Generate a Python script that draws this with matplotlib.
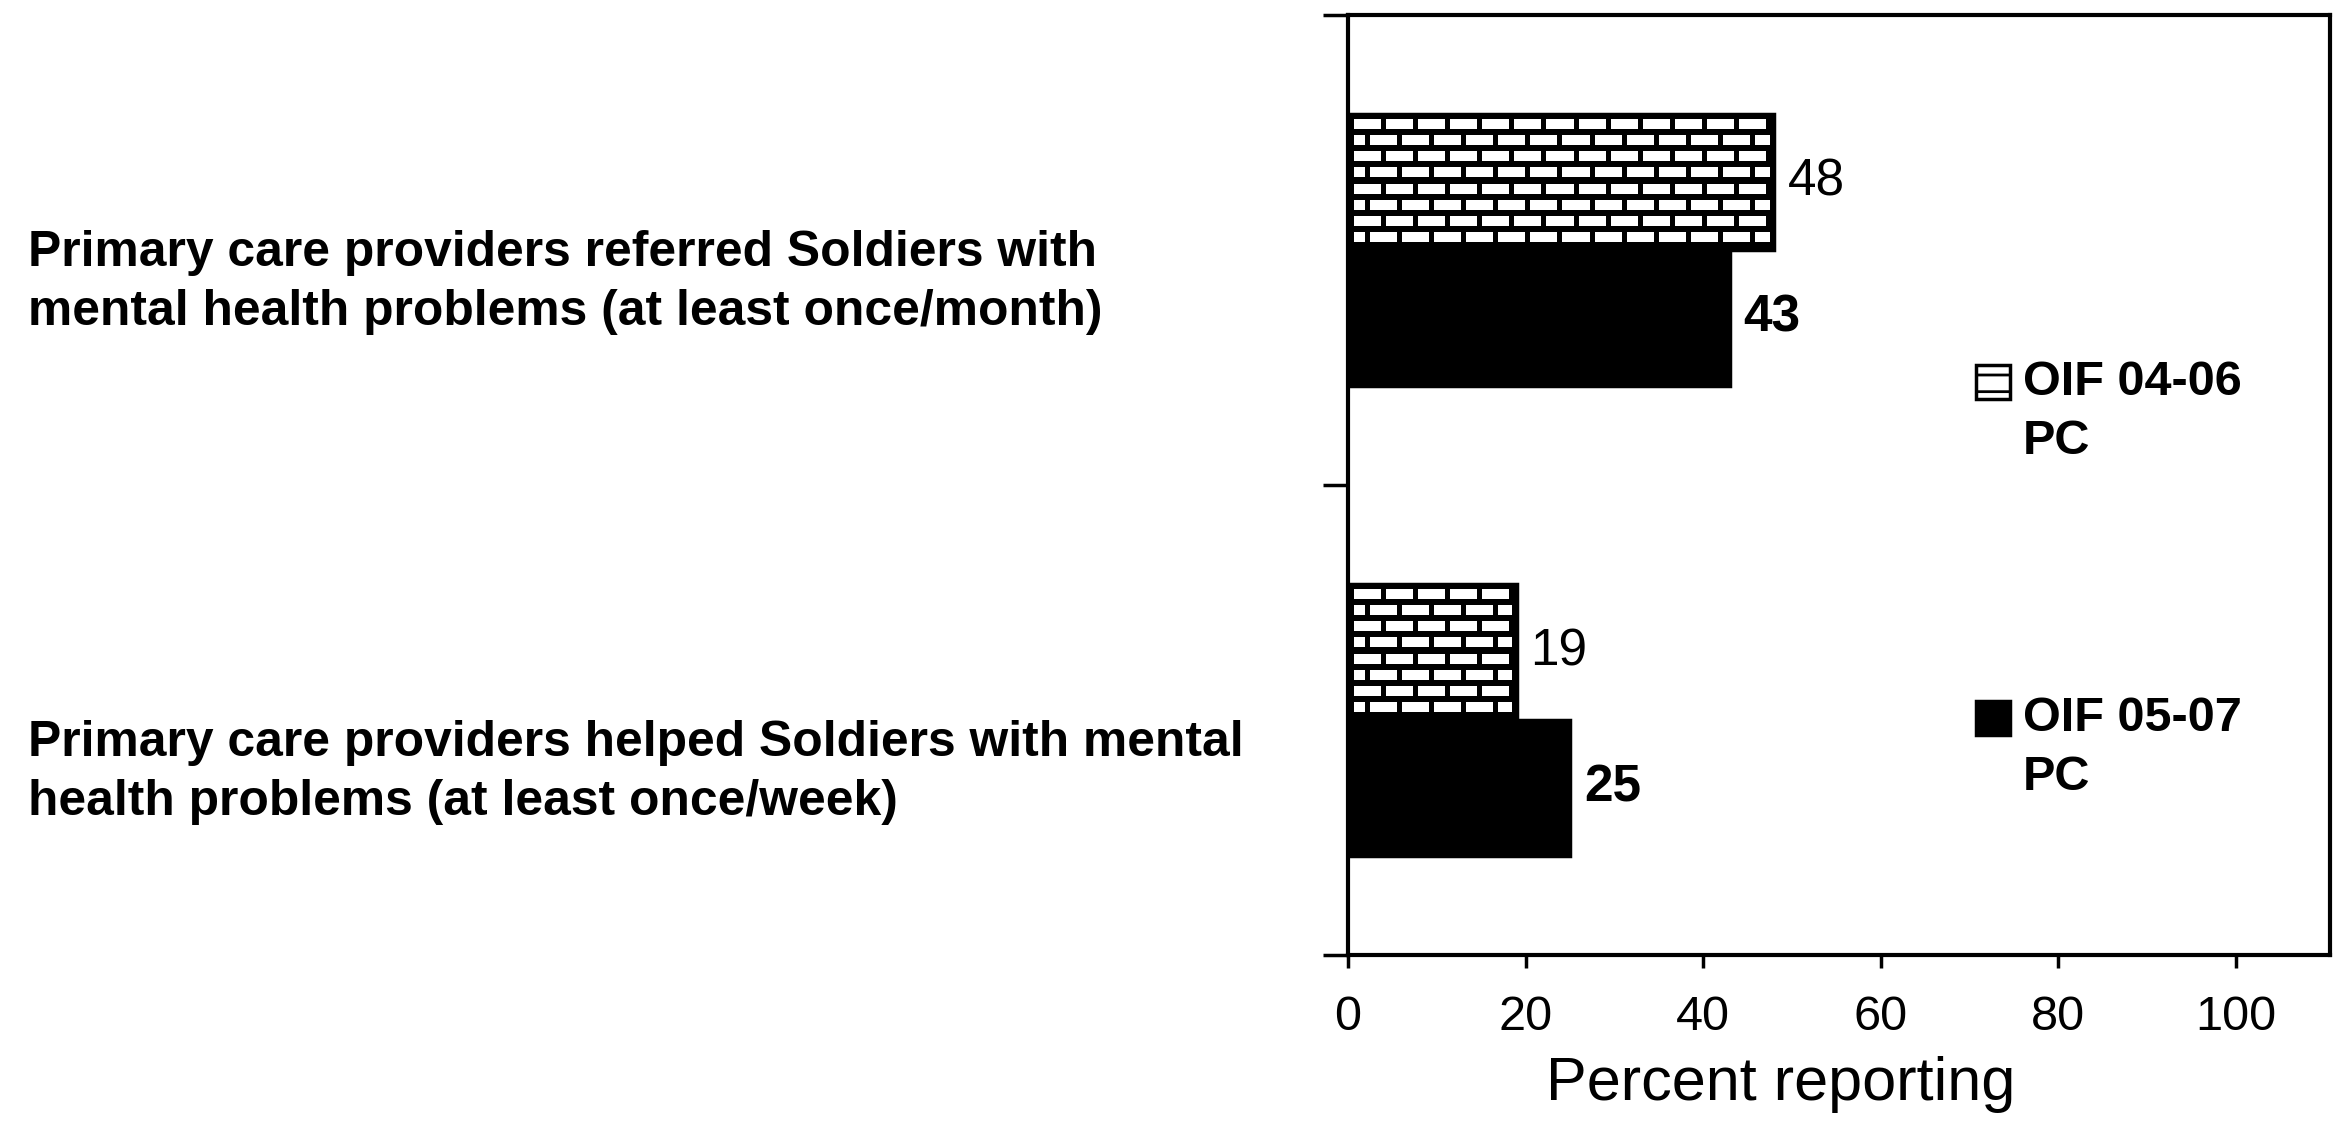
import numpy as np
import matplotlib
matplotlib.use("Agg")
import matplotlib.pyplot as plt
import matplotlib.patches as mpatches
import matplotlib.transforms as mtransforms
from matplotlib.container import BarContainer
from matplotlib.legend_handler import HandlerPatch, update_from_first_child

# ---------------- data ----------------
categories = [
    "Primary care providers referred Soldiers with\nmental health problems (at least once/month)",
    "Primary care providers helped Soldiers with mental\nhealth problems (at least once/week)",
]
series_names = ["OIF 04-06\nPC", "OIF 05-07\nPC"]
oif_0406 = [48, 19]
oif_0507 = [43, 25]
x_ticks = [0, 20, 40, 60, 80, 100]
x_label = "Percent reporting"

# ---------------- style ----------------
plt.rcParams["font.family"] = ["Liberation Sans", "DejaVu Sans"]
plt.rcParams["hatch.linewidth"] = 2.0

W, H, DPI = 2337, 1122, 100
fig = plt.figure(figsize=(W / DPI, H / DPI), dpi=DPI)
ax = fig.add_axes([1348 / W, 1 - 955 / H, (2330 - 1348) / W, (955 - 15) / H])

XMAX = 110.6
y = np.arange(len(categories))
bh = 0.29

b1 = ax.barh(y - bh / 2, oif_0406, height=bh, color="white", edgecolor="black",
             linewidth=2.5, hatch="-", label=series_names[0], zorder=3)
b2 = ax.barh(y + bh / 2, oif_0507, height=bh, color="black", edgecolor="black",
             linewidth=2.5, label=series_names[1], zorder=3)
ax.set_xlim(0, XMAX)
ax.set_ylim(len(categories) - 0.5, -0.5)


def brick_texture(w, h, row=16, brick=32, mortar_h=6, mortar_w=5, border=6):
    yy, xx = np.mgrid[0:h, 0:w]
    r = (yy - border) // row
    in_row = (yy - border) % row
    shift = (r % 2) * (brick // 2)
    in_col = (xx - border + shift) % brick
    white = (in_row < row - mortar_h) & (in_col < brick - mortar_w)
    white &= (yy >= border) & (yy < h - 5) & (xx >= border) & (xx < w - 5)
    return white.astype(float)


# brick pattern drawn inside each patterned bar
for bar in b1:
    ext = bar.get_window_extent()
    w_px = max(int(round(ext.width)), 2)
    h_px = max(int(round(ext.height)), 2)
    tex = brick_texture(w_px, h_px)
    x0, y0 = bar.get_x(), bar.get_y()
    ax.imshow(tex, cmap="gray", vmin=0, vmax=1, interpolation="nearest",
              aspect="auto", origin="upper",
              extent=(x0, x0 + bar.get_width(), y0 + bar.get_height(), y0),
              zorder=3.5)

ax.set_xlim(0, XMAX)
ax.set_ylim(len(categories) - 0.5, -0.5)

# value labels
ax.bar_label(b1, labels=[str(v) for v in oif_0406], padding=10, fontsize=37)
ax.bar_label(b2, labels=[str(v) for v in oif_0507], padding=10, fontsize=37,
             fontweight="bold")

# axes styling
for s in ax.spines.values():
    s.set_linewidth(3)
    s.set_zorder(2.5)
ax.set_yticks(np.arange(len(categories) + 1) - 0.5)
ax.set_yticklabels([])
ax.tick_params(axis="y", length=18, width=2.5, direction="out")
ax.set_xticks(x_ticks)
ax.set_xticklabels([str(t) for t in x_ticks])
ax.tick_params(axis="x", length=9, width=2.5, direction="out", pad=20,
               labelsize=35)
ax.set_xlabel(x_label, fontsize=44, labelpad=11, x=0.441)

# category labels (left side); y anchor is the baseline of the last line
label_dy_px = [75, 95]
for i, cat in enumerate(categories):
    tr = mtransforms.blended_transform_factory(fig.transFigure, ax.transData) + \
        mtransforms.ScaledTranslation(0, -label_dy_px[i] / DPI, fig.dpi_scale_trans)
    ax.text(28 / W, i, cat, transform=tr, ha="left", va="baseline",
            fontsize=35.8, fontweight="bold", linespacing=1.36, clip_on=False)


# legend
def shifted_rect(legend, orig_handle, xdescent, ydescent, width, height, fontsize):
    return mpatches.Rectangle((-xdescent, -ydescent + 22), width, height)


leg = ax.legend(
    handles=[b1, b2], labels=series_names,
    handler_map={BarContainer: HandlerPatch(patch_func=shifted_rect,
                                            update_func=update_from_first_child)},
    loc="upper left", bbox_to_anchor=(1976 / W, 1 - 360 / H),
    bbox_transform=fig.transFigure, frameon=False,
    prop={"size": 35, "weight": "bold"},
    handlelength=0.7, handleheight=0.7, handletextpad=0.27,
    labelspacing=4.76, borderpad=0, borderaxespad=0,
)
for t in leg.get_texts():
    t.set_linespacing(1.41)

fig.savefig("out.png", dpi=DPI)
